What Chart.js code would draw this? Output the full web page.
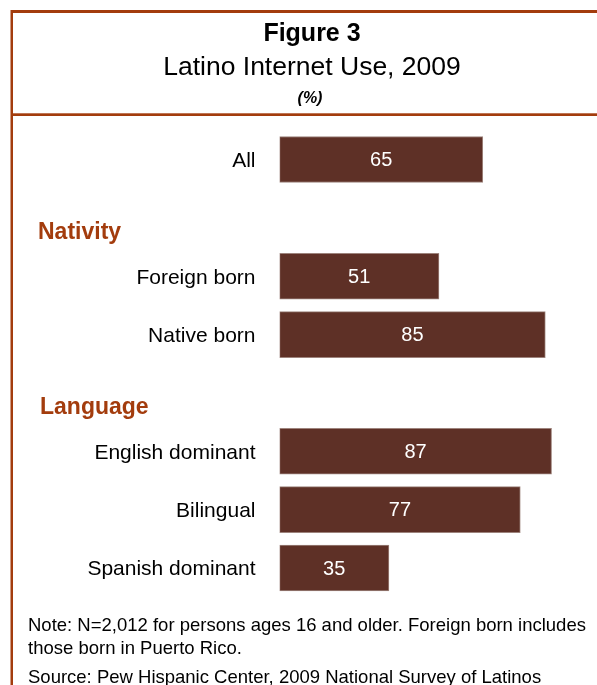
<!DOCTYPE html>
<html>
<head>
<meta charset="utf-8">
<script src="https://cdn.jsdelivr.net/npm/chart.js@4"></script>
<style>
  body { margin: 0; background: #fff; }
  canvas { display: block; }
</style>
</head>
<body>
<canvas id="internetChart" width="597" height="685"></canvas>
<script>
// rows, with blank slots where the group headings go
const categories = ['All', '', 'Foreign born', 'Native born', '', 'English dominant', 'Bilingual', 'Spanish dominant'];
const values = [65, null, 51, 85, null, 87, 77, 35];
const groupTitles = ['Nativity', 'Language'];
const groupRows = [1, 4];
const xTicks = [0, 100];

const FONT = "'Liberation Sans', Arial, sans-serif";
const BROWN = '#a33c0d';

Chart.defaults.font.family = FONT;

// frame, title block, group headings, notes and bar values
const decorations = {
  id: 'decorations',
  afterDraw(chart) {
    const ctx = chart.ctx;
    const y = chart.scales.y;
    ctx.save();

    // frame lines
    ctx.fillStyle = BROWN;
    ctx.fillRect(11, 10, 586, 3);
    ctx.fillRect(10.5, 10, 2.5, 675);
    ctx.fillRect(11, 113.3, 586, 2.7);

    // title
    ctx.fillStyle = '#000';
    ctx.textAlign = 'center';
    ctx.textBaseline = 'alphabetic';
    ctx.font = 'bold 25px ' + FONT;
    ctx.fillText('Figure 3', 312, 40.5);
    ctx.font = '26.5px ' + FONT;
    ctx.fillText('Latino Internet Use, 2009', 312, 74.5);
    ctx.font = 'bold italic 16px ' + FONT;
    ctx.fillText('(%)', 310, 103);

    // group headings
    ctx.textAlign = 'left';
    ctx.textBaseline = 'middle';
    ctx.fillStyle = BROWN;
    ctx.font = 'bold 23px ' + FONT;
    groupTitles.forEach((t, i) => {
      ctx.fillText(t, i === 0 ? 38 : 40, y.getPixelForValue(groupRows[i]) + 15);
    });

    // values inside bars
    const meta = chart.getDatasetMeta(0);
    ctx.textAlign = 'center';
    ctx.fillStyle = '#fff';
    ctx.font = '20px ' + FONT;
    meta.data.forEach((bar, i) => {
      if (values[i] == null) return;
      ctx.fillText(String(values[i]), (bar.base + bar.x) / 2, bar.y + 1);
    });

    // notes
    ctx.textAlign = 'left';
    ctx.textBaseline = 'alphabetic';
    ctx.fillStyle = '#000';
    ctx.font = '18.5px ' + FONT;
    ctx.fillText('Note: N=2,012 for persons ages 16 and older. Foreign born includes', 28, 631);
    ctx.fillText('those born in Puerto Rico.', 28, 654);
    ctx.fillText('Source: Pew Hispanic Center, 2009 National Survey of Latinos', 28, 682.5);

    ctx.restore();
  }
};

new Chart(document.getElementById('internetChart'), {
  type: 'bar',
  data: {
    labels: categories,
    datasets: [{
      data: values,
      backgroundColor: '#5e3026',
      borderColor: '#9d837c',
      borderWidth: 1,
      borderSkipped: false,
      barThickness: 46
    }]
  },
  options: {
    indexAxis: 'y',
    responsive: false,
    animation: false,
    layout: { padding: { top: 130.3, bottom: 87.8, left: 0, right: 4.8 } },
    plugins: {
      legend: { display: false },
      tooltip: { enabled: false }
    },
    scales: {
      x: {
        display: false,
        min: xTicks[0],
        max: xTicks[1]
      },
      y: {
        grid: { display: false, drawTicks: false },
        border: { display: false },
        ticks: {
          color: '#000',
          font: { size: 21 },
          padding: 24,
          labelOffset: 1.5
        },
        afterFit(scale) { scale.width = 279.5; }
      }
    }
  },
  plugins: [decorations]
});
</script>
</body>
</html>
